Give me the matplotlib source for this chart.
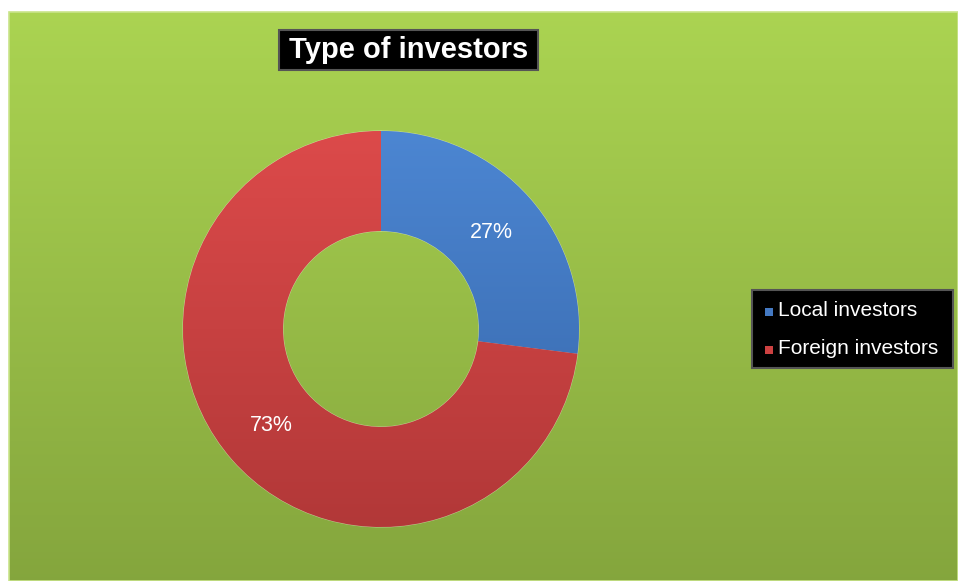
import numpy as np
import matplotlib
matplotlib.use("Agg")
import matplotlib.pyplot as plt
from matplotlib.patches import Rectangle

labels = ["Local investors", "Foreign investors"]
shares = [27, 73]
colors = ["#4479c2", "#cc4141"]
title = "Type of investors"

W, H = 958, 581
fig = plt.figure(figsize=(W / 100, H / 100), dpi=100)
fig.patch.set_facecolor("white")

# green panel background with vertical gradient
bg = fig.add_axes([0, 0, 1, 1])
bg.set_xlim(0, W)
bg.set_ylim(H, 0)
bg.axis("off")
grad = np.linspace(0, 1, 256)[:, None]
top = np.array([0.67, 0.83, 0.32])
bot = np.array([0.52, 0.65, 0.24])
img = top + (bot - top) * grad[:, :, None]
bg.imshow(img, extent=(9, W, H, 12), aspect="auto", zorder=0)
bg.add_patch(Rectangle((9, 12), W - 9, H - 12, fill=False, ec="#c9e48a", lw=1.2, zorder=1))

# title box
bg.add_patch(Rectangle((279, 30), 259, 40, fc="black", ec="#555555", lw=1.5, zorder=2))
bg.text(408.5, 50, title, color="white", fontsize=21, fontweight="bold",
        ha="center", va="center", family="Liberation Sans", zorder=3)

# legend box
bg.add_patch(Rectangle((752, 290), 201, 78, fc="black", ec="#555555", lw=1.5, zorder=2))
for i, (lab, c) in enumerate(zip(labels, colors)):
    y = 311 + i * 38
    bg.add_patch(Rectangle((765, y - 3.5), 8, 8, fc=c, ec="none", zorder=3))
    bg.text(778, y, lab, color="white", fontsize=15, ha="left", va="center",
            family="Liberation Sans", zorder=3)

# donut
cx, cy, r = 381, 329, 198
ax = fig.add_axes([(cx - r) / W, 1 - (cy + r) / H, 2 * r / W, 2 * r / H])
ax.set_facecolor("none")
wedges, texts, autotexts = ax.pie(
    shares, colors=colors, startangle=90, counterclock=False,
    radius=1.0, wedgeprops=dict(width=0.505, edgecolor="#ffffff66", linewidth=0.8),
    autopct="%d%%", pctdistance=0.74,
    textprops=dict(color="white", fontsize=15.5, family="Liberation Sans", zorder=5))

# vertical shading inside each wedge
shade = {"#4479c2": ("#4c86d2", "#3565a8"), "#cc4141": ("#dc4a4a", "#b23838")}
for w, c in zip(wedges, colors):
    c0, c1 = (np.array(matplotlib.colors.to_rgb(h)) for h in shade[c])
    g = c0 + (c1 - c0) * np.linspace(0, 1, 256)[:, None, None]
    g = np.repeat(g, 2, axis=1)
    im = ax.imshow(g, extent=(-1, 1, -1, 1), aspect="auto", zorder=2)
    im.set_clip_path(w)
ax.set_xlim(-1, 1)
ax.set_ylim(-1, 1)
ax.set_aspect("equal")

fig.savefig("out.png", dpi=100)
